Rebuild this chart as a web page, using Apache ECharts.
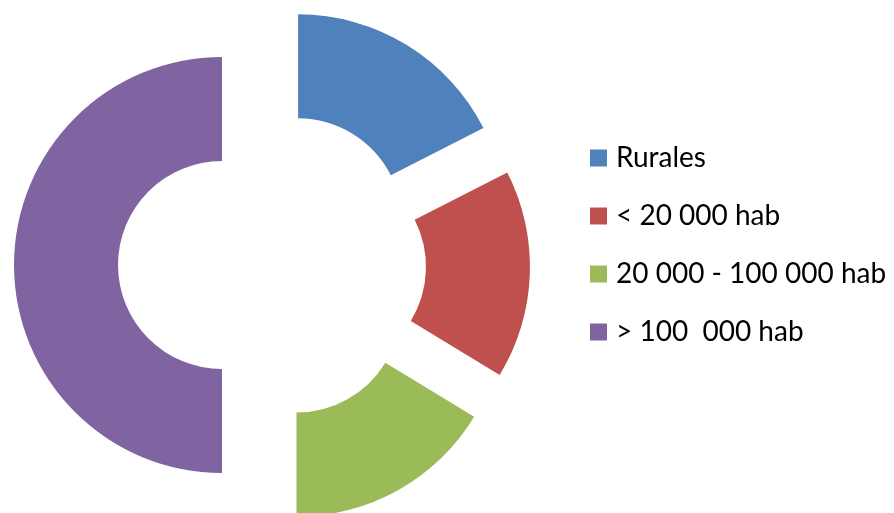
<!DOCTYPE html>
<html>
<head>
<meta charset="utf-8">
<script src="https://cdn.jsdelivr.net/npm/echarts@6/dist/echarts.min.js"></script>
<style>
  html, body { margin: 0; padding: 0; background: #fff; }
  #main { width: 894px; height: 513px; }
</style>
</head>
<body>
<div id="main"></div>
<script>
// categorias y valores (%)
var categories = ['Rurales', '< 20 000 hab', '20 000 - 100 000 hab', '> 100  000 hab'];
var values = [17.5, 16.2, 16.3, 50];
var colors = ['#4F81BD', '#C0504D', '#9BBB59', '#8064A2'];

var myChart = echarts.init(document.getElementById('main'));

var data = categories.map(function (name, i) {
    return {
        name: name,
        value: values[i],
        selected: true,
        itemStyle: { color: colors[i] }
    };
});

var option = {
    animation: false,
    backgroundColor: '#fff',
    legend: {
        orient: 'vertical',
        left: 585,
        top: 139,
        icon: 'rect',
        itemWidth: 17,
        itemHeight: 17,
        itemGap: 30,
        selectedMode: false,
        textStyle: {
            fontFamily: 'Lato',
            fontSize: 28,
            color: '#000',
            padding: [0, 0, 0, 4]
        },
        data: categories
    },
    series: [{
        type: 'pie',
        center: [272, 265],
        radius: [104, 208],
        startAngle: 90,
        clockwise: true,
        selectedMode: 'multiple',
        selectedOffset: 50,
        label: { show: false },
        labelLine: { show: false },
        emphasis: { scale: false },
        data: data
    }]
};

myChart.setOption(option);
</script>
</body>
</html>
